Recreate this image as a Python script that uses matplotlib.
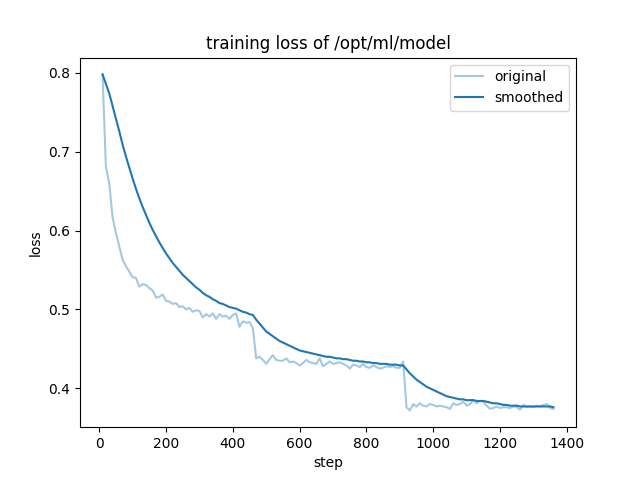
import numpy as np
import matplotlib
matplotlib.use('Agg')
import matplotlib.pyplot as plt

steps = list(range(10, 1361, 10))

original = [
    0.798, 0.681, 0.660, 0.617, 0.597, 0.580, 0.563, 0.555, 0.548, 0.541,
    0.540, 0.529, 0.532, 0.531, 0.527, 0.524, 0.515, 0.516, 0.519, 0.511,
    0.510, 0.507, 0.508, 0.503, 0.504, 0.500, 0.502, 0.497, 0.499, 0.498,
    0.490, 0.494, 0.491, 0.495, 0.488, 0.494, 0.491, 0.492, 0.488, 0.493,
    0.495, 0.478, 0.485, 0.483, 0.484, 0.476, 0.438, 0.440, 0.436, 0.431,
    0.437, 0.442, 0.436, 0.435, 0.435, 0.438, 0.433, 0.434, 0.432, 0.429,
    0.432, 0.436, 0.433, 0.432, 0.431, 0.438, 0.428, 0.431, 0.434, 0.431,
    0.432, 0.433, 0.431, 0.429, 0.425, 0.430, 0.429, 0.427, 0.431, 0.427,
    0.426, 0.429, 0.427, 0.425, 0.426, 0.428, 0.427, 0.428, 0.426, 0.426,
    0.434, 0.376, 0.372, 0.380, 0.377, 0.381, 0.378, 0.377, 0.380, 0.379,
    0.377, 0.378, 0.377, 0.376, 0.374, 0.381, 0.379, 0.380, 0.383, 0.378,
    0.380, 0.385, 0.381, 0.384, 0.383, 0.378, 0.374, 0.375, 0.377, 0.375,
    0.376, 0.376, 0.375, 0.377, 0.376, 0.373, 0.379, 0.376, 0.377, 0.376,
    0.378, 0.377, 0.379, 0.380, 0.375, 0.374,
]

smoothed = [
    0.798, 0.786, 0.774, 0.758, 0.742, 0.726, 0.709, 0.694, 0.680, 0.666,
    0.653, 0.641, 0.630, 0.620, 0.610, 0.601, 0.593, 0.585, 0.578, 0.571,
    0.565, 0.559, 0.554, 0.549, 0.544, 0.540, 0.536, 0.532, 0.528, 0.525,
    0.521, 0.518, 0.516, 0.513, 0.511, 0.508, 0.507, 0.505, 0.503, 0.502,
    0.501, 0.499, 0.497, 0.496, 0.494, 0.493, 0.487, 0.482, 0.477, 0.472,
    0.469, 0.466, 0.463, 0.460, 0.458, 0.456, 0.454, 0.452, 0.450, 0.448,
    0.447, 0.446, 0.445, 0.444, 0.443, 0.442, 0.441, 0.440, 0.440, 0.439,
    0.438, 0.438, 0.437, 0.437, 0.436, 0.435, 0.435, 0.434, 0.434, 0.433,
    0.433, 0.432, 0.432, 0.431, 0.431, 0.431, 0.430, 0.430, 0.430, 0.429,
    0.429, 0.424, 0.419, 0.415, 0.411, 0.408, 0.405, 0.402, 0.400, 0.398,
    0.396, 0.394, 0.392, 0.390, 0.389, 0.388, 0.387, 0.386, 0.386, 0.385,
    0.385, 0.385, 0.384, 0.384, 0.384, 0.383, 0.382, 0.381, 0.381, 0.380,
    0.379, 0.379, 0.378, 0.378, 0.378, 0.377, 0.377, 0.377, 0.377, 0.377,
    0.377, 0.377, 0.377, 0.377, 0.377, 0.376,
]

fig = plt.figure(figsize=(6.4, 4.8), dpi=100)
plt.plot(steps, original, color="#1f77b4", alpha=0.4, label="original")
plt.plot(steps, smoothed, color="#1f77b4", label="smoothed")
plt.title("training loss of /opt/ml/model")
plt.xlabel("step")
plt.ylabel("loss")
plt.legend()
plt.savefig("out.png", format="png", dpi=100)
